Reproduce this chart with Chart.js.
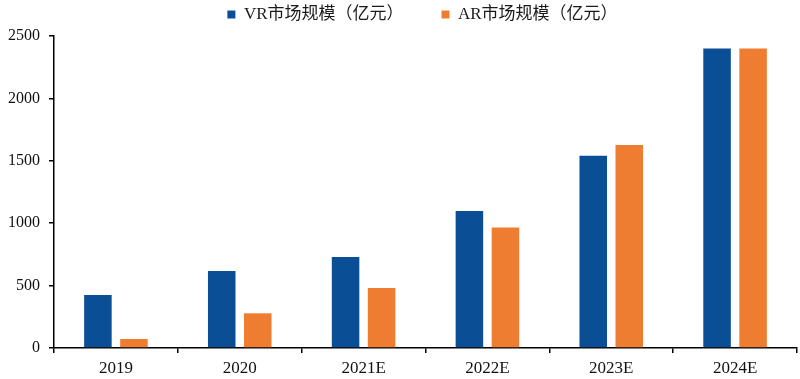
<!DOCTYPE html>
<html>
<head>
<meta charset="utf-8">
<script src="https://cdn.jsdelivr.net/npm/chart.js@4/dist/chart.umd.min.js"></script>
<style>
html,body{margin:0;padding:0;background:#fff;}
#wrap{width:800px;height:379px;}
</style>
</head>
<body>
<div id="wrap"><canvas id="c" width="800" height="379"></canvas></div>
<script>
const categories = ['2019', '2020', '2021E', '2022E', '2023E', '2024E'];
const vrValues = [425, 616, 729, 1097, 1540, 2400];
const arValues = [72, 278, 480, 966, 1627, 2400];
const seriesNames = ['VR市场规模（亿元）', 'AR市场规模（亿元）'];
const yTicks = [0, 500, 1000, 1500, 2000, 2500];

const serif = "'Liberation Serif', 'Times New Roman', 'Noto Sans CJK SC', serif";
const LEGEND_GAP = 38;

const legendPlacement = {
  id: 'legendPlacement',
  beforeInit(chart) {
    const origFit = chart.legend.fit;
    chart.legend.fit = function () {
      origFit.bind(chart.legend)();
      this.height = 36;
    };
  },
  afterLayout(chart) {
    const lg = chart.legend;
    lg.top = 6 - LEGEND_GAP;
    lg.left += 48;
  }
};

new Chart(document.getElementById('c'), {
  type: 'bar',
  data: {
    labels: categories,
    datasets: [
      { label: seriesNames[0], data: vrValues, backgroundColor: '#0A4E96' },
      { label: seriesNames[1], data: arValues, backgroundColor: '#EE7D32' }
    ]
  },
  options: {
    responsive: false,
    animation: false,
    devicePixelRatio: 1,
    datasets: { bar: { categoryPercentage: 0.582, barPercentage: 0.764 } },
    layout: { padding: { left: 0, right: 3, top: 0, bottom: 0 } },
    plugins: {
      tooltip: { enabled: false },
      legend: {
        position: 'top',
        labels: {
          boxWidth: 8,
          boxHeight: 8,
          padding: LEGEND_GAP,
          color: '#1a1a1a',
          font: { family: serif, size: 17 }
        }
      }
    },
    scales: {
      x: {
        afterFit: s => { s.height = 31; },
        border: { color: '#000', width: 1.5 },
        grid: { display: true, drawOnChartArea: false, drawTicks: true, tickLength: 5, color: '#000', lineWidth: 1.5 },
        ticks: { color: '#111', padding: 5, font: { family: serif, size: 17 } }
      },
      y: {
        min: 0,
        max: 2500,
        afterFit: s => { s.width = 54; },
        afterBuildTicks: s => { s.ticks = yTicks.map(v => ({ value: v })); },
        border: { color: '#000', width: 1.5 },
        grid: { display: true, drawOnChartArea: false, drawTicks: true, tickLength: 5, color: '#000', lineWidth: 1.5 },
        ticks: { color: '#111', padding: 9, font: { family: serif, size: 16 }, callback: v => String(v) }
      }
    }
  },
  plugins: [legendPlacement]
});
</script>
</body>
</html>
